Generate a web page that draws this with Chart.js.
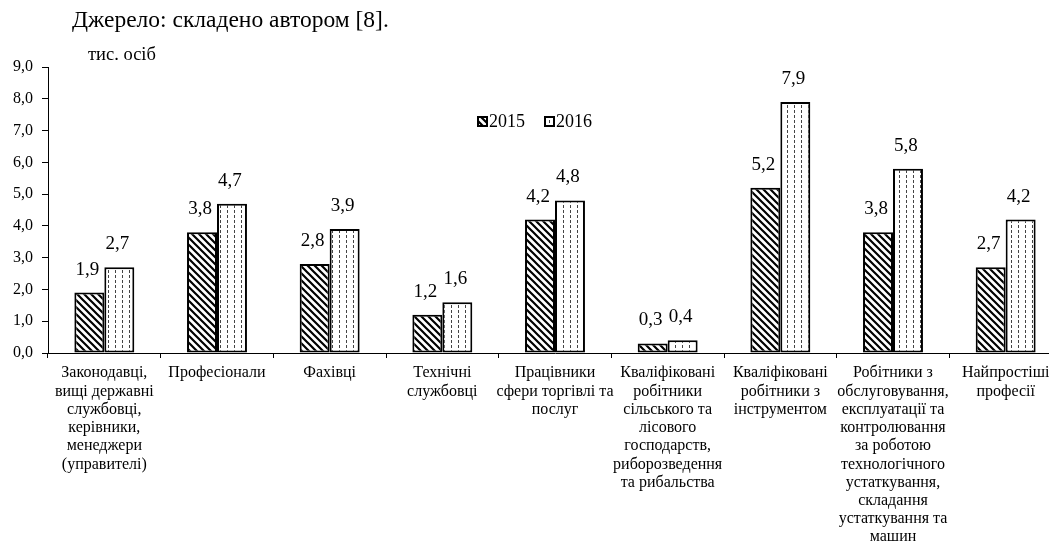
<!DOCTYPE html>
<html lang="uk">
<head>
  <meta charset="UTF-8">
  <title>Працівники за професійними групами</title>
  <script src="https://cdn.jsdelivr.net/npm/chart.js"></script>
  <style>
    body {
      margin: 0;
      background: #fff;
      overflow: hidden;
      font-family: "Liberation Serif", "Times New Roman", serif;
    }
    .wrap {
      position: relative;
      width: 1075px;
      height: 555px;
    }
    .source {
      position: absolute;
      left: 72px;
      top: 6px;
      font-size: 23.5px;
      color: #000;
    }
    .unit {
      position: absolute;
      left: 88px;
      top: 44px;
      font-size: 18.5px;
      color: #000;
    }
    canvas { position: absolute; left: 0; top: 0; }
  </style>
</head>
<body>
  <div class="wrap">
    <canvas id="chart" width="1075" height="555"></canvas>
    <div class="source">Джерело: складено автором [8].</div>
    <div class="unit">тис. осіб</div>
  </div>

  <script>
    const categories = [
      ["Законодавці,", "вищі державні", "службовці,", "керівники,", "менеджери", "(управителі)"],
      ["Професіонали"],
      ["Фахівці"],
      ["Технічні", "службовці"],
      ["Працівники", "сфери торгівлі та", "послуг"],
      ["Кваліфіковані", "робітники", "сільського та", "лісового", "господарств,", "риборозведення", "та рибальства"],
      ["Кваліфіковані", "робітники з", "інструментом"],
      ["Робітники з", "обслуговування,", "експлуатації та", "контролювання", "за роботою", "технологічного", "устаткування,", "складання", "устаткування та", "машин"],
      ["Найпростіші", "професії"]
    ];
    const years = ["2015", "2016"];
    const values2015 = [1.9, 3.8, 2.8, 1.2, 4.2, 0.3, 5.2, 3.8, 2.7];
    const values2016 = [2.7, 4.7, 3.9, 1.6, 4.8, 0.4, 7.9, 5.8, 4.2];
    const yTicks = [0, 1, 2, 3, 4, 5, 6, 7, 8, 9];

    const serif = '"Liberation Serif", "Times New Roman", serif';
    const fmt = v => v.toFixed(1).replace('.', ',');

    // hatch fills like the original: diagonal lines and dashed columns
    function diagonalPattern() {
      const c = document.createElement('canvas');
      c.width = 7; c.height = 7;
      const g = c.getContext('2d');
      g.fillStyle = '#fff';
      g.fillRect(0, 0, 7, 7);
      g.strokeStyle = '#000';
      g.lineWidth = 2.2;
      g.beginPath();
      g.moveTo(-1, -1); g.lineTo(8, 8);
      g.moveTo(-1, 6); g.lineTo(1, 8);
      g.moveTo(6, -1); g.lineTo(8, 1);
      g.stroke();
      return g.createPattern(c, 'repeat');
    }
    function dashPattern() {
      const c = document.createElement('canvas');
      c.width = 7; c.height = 5;
      const g = c.getContext('2d');
      g.fillStyle = '#fff';
      g.fillRect(0, 0, 7, 5);
      g.fillStyle = '#444';
      g.fillRect(3, 0, 1, 3);
      return g.createPattern(c, 'repeat');
    }
    const fill2015 = diagonalPattern();
    const fill2016 = dashPattern();

    const valueLabels = {
      id: 'valueLabels',
      afterDatasetsDraw(chart) {
        const ctx = chart.ctx;
        ctx.save();
        ctx.font = '19px ' + serif;
        ctx.fillStyle = '#000';
        ctx.textAlign = 'center';
        ctx.textBaseline = 'middle';
        chart.data.datasets.forEach((ds, i) => {
          chart.getDatasetMeta(i).data.forEach((bar, j) => {
            ctx.fillText(fmt(ds.data[j]), bar.x - 2, bar.y - 23);
          });
        });
        ctx.restore();
      }
    };

    const boxLegend = {
      id: 'boxLegend',
      afterDraw(chart) {
        const ctx = chart.ctx;
        const area = chart.chartArea;
        let x = area.left + 430;
        const y = 122;
        ctx.save();
        ctx.font = '18px ' + serif;
        ctx.textBaseline = 'middle';
        ctx.textAlign = 'left';
        chart.data.datasets.forEach(ds => {
          ctx.fillStyle = ds.backgroundColor;
          ctx.fillRect(x, y - 5, 9, 9);
          ctx.strokeStyle = '#000';
          ctx.lineWidth = 2;
          ctx.strokeRect(x, y - 5, 9, 9);
          ctx.fillStyle = '#000';
          ctx.fillText(ds.label, x + 11, y);
          x += 67;
        });
        ctx.restore();
      }
    };

    new Chart(document.getElementById('chart'), {
      type: 'bar',
      data: {
        labels: categories,
        datasets: [
          { label: years[0], data: values2015, backgroundColor: fill2015 },
          { label: years[1], data: values2016, backgroundColor: fill2016 }
        ]
      },
      options: {
        responsive: false,
        animation: false,
        layout: { padding: { top: 67, right: 13, left: 0, bottom: 0 } },
        datasets: {
          bar: {
            borderColor: '#000',
            borderWidth: 2,
            borderSkipped: false,
            categoryPercentage: 0.532,
            barPercentage: 1.0
          }
        },
        plugins: {
          legend: { display: false },
          tooltip: { enabled: false }
        },
        scales: {
          x: {
            offset: true,
            grid: {
              display: true,
              offset: true,
              drawOnChartArea: false,
              drawTicks: true,
              tickLength: 5,
              color: '#000'
            },
            border: { display: true, color: '#000', width: 1 },
            ticks: {
              autoSkip: false,
              maxRotation: 0,
              minRotation: 0,
              padding: 6,
              color: '#000',
              font: { family: serif, size: 16, lineHeight: 1.14 }
            },
            afterFit(scale) { scale.height = 202; }
          },
          y: {
            min: yTicks[0],
            max: yTicks[yTicks.length - 1],
            afterBuildTicks(scale) { scale.ticks = yTicks.map(v => ({ value: v })); },
            grid: {
              display: true,
              drawOnChartArea: false,
              drawTicks: true,
              tickLength: 6,
              color: '#000'
            },
            border: { display: true, color: '#000', width: 1 },
            ticks: {
              padding: 9,
              color: '#000',
              font: { family: serif, size: 16 },
              callback: v => fmt(v)
            },
            afterFit(scale) { scale.width = 48; }
          }
        }
      },
      plugins: [valueLabels, boxLegend]
    });
  </script>
</body>
</html>
